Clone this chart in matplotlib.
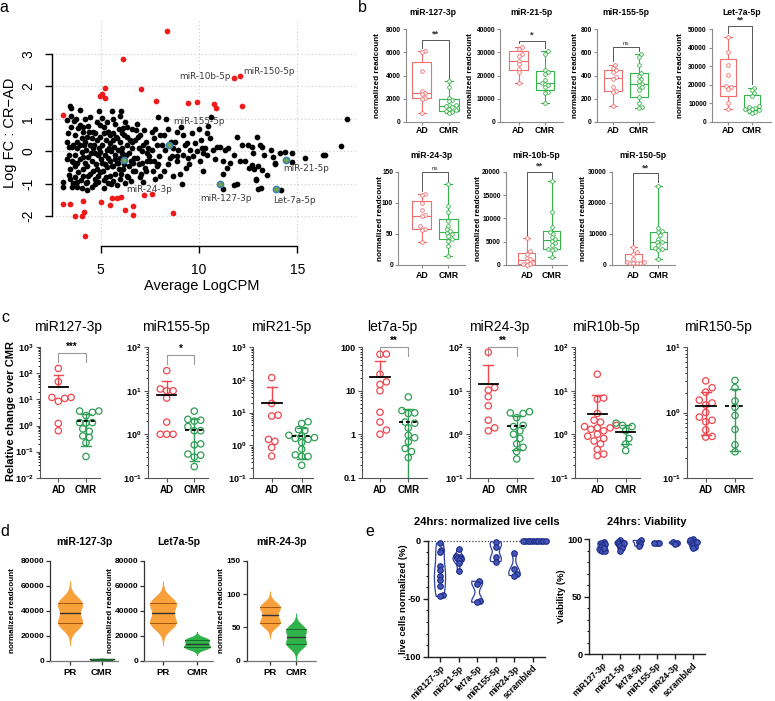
import numpy as np
import matplotlib
matplotlib.use('Agg')
import matplotlib.pyplot as plt
from matplotlib.ticker import FixedLocator, FuncFormatter, NullFormatter

plt.rcParams['font.family'] = ['Liberation Sans', 'DejaVu Sans']
plt.rcParams['mathtext.fontset'] = 'custom'
plt.rcParams['mathtext.rm'] = 'Liberation Sans'
plt.rcParams['mathtext.bf'] = 'Liberation Sans:bold'
plt.rcParams['axes.unicode_minus'] = False

# ------------------------------------------------------------------ data
# panel a : MA plot (Average LogCPM, Log FC)
ma_black_x = [3.44, 3.47, 3.27, 3.27, 3.36, 3.39, 3.44, 3.36, 3.10, 3.10, 3.53, 3.61,
              3.92, 3.75, 3.95, 3.86, 3.69, 4.03, 3.81, 3.95, 3.78, 4.03, 3.69, 3.92, 3.78, 4.08, 3.86, 3.69, 3.98, 3.78, 4.03, 4.12, 4.12, 3.53, 3.61,
              4.20, 4.37, 4.63, 4.29, 4.80, 4.46, 4.25, 4.71, 4.37, 4.54, 4.32, 4.80, 4.46, 4.71, 4.25, 4.54, 4.29, 4.20, 4.88, 4.80, 4.88,
              4.92, 5.05, 5.31, 5.14, 5.39, 4.97, 5.27, 5.05, 5.44, 4.97, 5.22, 5.39, 5.05, 5.31, 4.97, 5.47, 5.14, 5.39, 5.14, 5.47, 5.47, 5.47,
              5.56, 6.03, 5.73, 5.95, 5.64, 5.85, 5.98, 5.68, 5.90, 5.73, 5.98, 5.81, 5.64, 5.95, 5.73, 5.98, 5.64, 5.85, 5.98, 6.07,
              6.15, 6.32, 6.58, 6.19, 6.49, 6.32, 6.58, 6.41, 6.24, 6.53, 6.41, 6.15, 6.63, 6.32, 6.53, 6.24,
              6.80, 7.20, 7.00, 6.75, 7.17, 6.92, 7.34, 6.83, 7.08, 7.25, 6.75, 7.00, 7.17, 7.34, 7.31,
              7.93, 7.76, 7.71, 7.85, 7.59, 7.98, 7.51, 7.85, 7.64, 8.02, 7.76, 8.02, 7.47,
              8.31, 8.19, 8.56, 8.27, 8.61, 8.44, 8.19, 8.69, 8.69,
              9.08, 8.86, 9.29, 8.95, 9.17, 8.86, 9.34, 9.03, 9.12, 8.78, 9.37,
              9.97, 9.63, 10.10, 9.54, 9.88, 9.71, 10.05, 10.19, 9.46, 10.14, 10.22,
              10.61, 10.47, 10.39, 10.56, 10.31, 10.73, 10.42, 10.81, 10.90,
              11.07, 11.49, 11.24, 11.58, 11.20, 11.20, 11.41, 11.32,
              11.92, 11.75, 12.08, 11.75, 11.92, 12.17,
              12.93, 12.51, 12.73, 12.34, 12.56, 12.90, 13.02, 13.10,
              12.68, 13.19, 13.64, 13.32, 13.78, 14.37, 14.74, 15.39, 16.32, 16.42, 17.20, 17.51,
              12.68, 13.01, 12.79, 13.19, 13.44, 13.86, 12.90, 13.13, 14.17, 14.12, 14.71, 13.86,
              3.35, 3.50, 3.60, 3.55, 3.70, 3.45, 3.62, 3.80, 3.30, 3.50,
              4.10, 4.15, 4.40, 4.50, 4.20, 4.35, 4.55, 4.60, 4.10, 4.45, 4.60, 4.30,
              4.70, 4.65, 4.90, 5.00, 4.75, 5.10, 4.85, 5.15, 4.95, 5.20, 4.70,
              5.30, 5.50, 5.55, 5.25, 5.60, 5.35, 5.70, 5.50, 5.75, 5.60,
              5.90, 6.10, 6.20, 6.35, 6.05, 6.30, 6.10, 6.40, 6.25,
              6.60, 6.70, 6.90, 6.95, 7.10, 6.65, 7.05, 6.85,
              7.40, 7.60, 7.30, 7.70, 8.10, 7.90,
              8.40, 8.90, 9.20, 9.50, 9.80, 8.50]
ma_black_y = [1.40, 1.33, 0.97, 0.30, 0.14, -0.11, -0.53, -0.73, -0.94, -1.09, -1.11, -0.97,
              1.28, 0.99, 0.81, 0.71, 0.51, 0.40, 0.30, 0.20, 0.09, -0.01, -0.11, -0.25, -0.37, -0.53, -0.63, -0.78, -0.89, -1.09, -1.14, 0.59, -0.19, 0.12, -0.32,
              0.99, 0.78, 0.61, 0.45, 0.35, 0.20, 0.04, -0.06, -0.16, -0.30, -0.44, -0.55, -0.70, -0.84, -0.99, -1.09, -1.18, 0.30, -0.11, 0.89, -0.94,
              1.23, 1.02, 0.89, 0.74, 0.61, 0.45, 0.35, 0.20, 0.09, -0.01, -0.11, -0.22, -0.35, -0.49, -0.65, -0.75, -0.89, -0.99, -1.14, 0.51, 0.25, -0.30,
              1.23, 1.23, 0.85, 0.70, 0.56, 0.40, 0.30, 0.14, 0.04, -0.10, -0.21, -0.35, -0.45, -0.56, -0.70, -0.86, -0.90, -1.05, 1.10, -0.05,
              0.71, 0.76, 0.70, 0.51, 0.35, 0.20, 0.09, -0.06, -0.14, -0.30, -0.45, -0.55, -0.60, -0.75, -0.90, -0.99,
              0.66, 0.66, 0.51, 0.35, 0.20, 0.09, -0.06, -0.21, -0.35, -0.51, -0.60, -0.80, -0.96, -0.30, 0.30,
              1.05, 0.70, 0.40, 0.20, 0.04, -0.15, -0.30, -0.45, -0.60, -0.75, -0.86, 0.51, -0.15,
              0.99, 0.51, 0.30, 0.04, -0.15, -0.40, -0.60, -0.75, 0.09,
              0.74, 0.61, 0.20, 0.04, -0.10, -0.30, -0.51, -0.70, -1.00, 0.30, 0.25,
              0.70, 0.55, 0.35, 0.04, 0.00, -0.15, -0.30, -0.60, -0.21, 0.09, -0.05,
              1.05, 0.79, 0.55, 0.40, 0.09, 0.04, -0.10, -0.25, 0.14,
              0.14, 0.09, -0.30, -0.35, -0.70, -1.15, -0.51, 0.04,
              0.45, -0.10, -0.30, -1.05, -1.00, 0.20,
              0.45, 0.20, -0.05, -0.30, -0.51, -0.86, -1.15, 0.20,
              0.14, 0.14, 0.04, -0.11, -0.17, -0.03, -0.06, -0.22, -0.11, -0.11, 0.17, 1.00,
              -0.42, -0.44, -0.55, -0.58, -0.73, -0.40, -0.89, -1.14, -1.19, -0.06, -0.34, -0.37,
              0.55, 0.75, 0.20, -0.30, -0.45, -0.85, 0.95, -0.95, -0.25, 1.10,
              0.75, 0.20, 0.60, -0.05, -0.35, -0.75, 0.40, -0.60, -0.75, 1.05, 0.10, -0.95,
              0.55, 0.20, 0.10, -0.25, -0.40, -0.60, -0.75, 0.55, 0.80, -0.40, -1.00,
              0.05, 0.00, -0.45, -0.80, 0.35, 0.60, -0.25, -1.00, 0.45, 1.00,
              -0.35, 0.10, -0.40, 0.45, -0.70, -0.10, 0.55, -0.80, 0.90,
              0.30, -0.20, 0.45, -0.40, 0.00, -0.35, -0.70, 0.85,
              0.10, 0.60, -0.60, -0.30, 0.20, -0.40,
              0.70, -0.15, 0.50, -0.40, 0.25, -0.20]
ma_red_x = [8.36, 6.12, 5.24, 4.97, 5.08, 5.24, 7.05, 7.80, 9.42, 9.90, 10.75, 10.88, 12.19, 11.80, 12.08,
            3.07, 3.07, 3.46, 3.71, 4.03, 4.08, 4.15, 4.20, 5.00, 5.49, 5.56, 5.85, 6.03, 6.22, 6.64, 6.66, 7.20, 7.63, 8.66]
ma_red_y = [3.71, 2.86, 1.95, 1.72, 1.76, 1.63, 1.91, 1.54, 1.49, 1.53, 1.47, 1.35, 1.41, 2.26, 2.31,
            1.12, -1.63, -1.63, -2.00, -2.00, -1.52, -1.86, -2.62, -1.57, -1.65, -1.43, -1.43, -1.40, -1.81, -1.69, -1.97, -1.35, -1.32, -1.89]
ma_hl_names = ['miR-24-3p', 'miR-155-5p', 'miR-127-3p', 'miR-21-5p', 'Let-7a-5p']
ma_hl_x = [6.19, 8.49, 11.08, 14.42, 13.91]
ma_hl_y = [-0.28, 0.19, -1.00, -0.27, -1.15]
ma_lab_names = ['miR-10b-5p', 'miR-150-5p']
ma_lab_x = [11.80, 12.08]
ma_lab_y = [2.26, 2.31]

# panel b : normalized readcount boxplots
b_titles = ['miR-127-3p', 'miR-21-5p', 'miR-155-5p', 'Let-7a-5p', 'miR-24-3p', 'miR-10b-5p', 'miR-150-5p']
b_mir127_ad = [6100, 6000, 4400, 2700, 2500, 2400, 2100, 2000, 800]
b_mir127_cmr = [3500, 3000, 2100, 1900, 1800, 1500, 1450, 1350, 1300, 1150, 1000, 950, 850, 750]
b_mir21_ad = [32500, 31500, 29500, 28500, 26500, 25000, 23000, 21500, 17000]
b_mir21_cmr = [30500, 29500, 22500, 21500, 20500, 18000, 17000, 16500, 16000, 15000, 13000, 12500, 8000]
b_mir155_ad = [495, 470, 445, 430, 385, 375, 300, 270, 258, 140]
b_mir155_cmr = [585, 560, 490, 425, 400, 375, 350, 330, 320, 300, 280, 220, 160, 130, 120]
b_let7a_ad = [46000, 38000, 30500, 25500, 19500, 19000, 18000, 10500, 7000]
b_let7a_cmr = [18500, 17000, 15500, 14000, 8500, 8000, 7500, 7000, 6800, 6500, 6000, 5500, 5000]
b_mir24_ad = [114, 112, 100, 88, 80, 78, 62, 58, 57, 37]
b_mir24_cmr = [130, 95, 85, 70, 63, 58, 55, 52, 50, 47, 42, 38, 30, 15]
b_mir10b_ad = [5800, 2900, 2400, 1500, 1200, 800, 500, 300, 150, 50]
b_mir10b_cmr = [18000, 11300, 8200, 7000, 6600, 6000, 5500, 5100, 4800, 4300, 3500, 3400, 3300, 1800]
b_mir150_ad = [5800, 4200, 3500, 1800, 1100, 900, 800, 700, 600, 500]
b_mir150_cmr = [25500, 12000, 11000, 10500, 9500, 8500, 7500, 7300, 6500, 5500, 5000, 4800, 1800]
b_sig = ['**', '*', 'ns', '**', 'ns', '**', '**']
b_ymax = [8000, 40000, 800, 50000, 150, 20000, 30000]
b_ystep = [2000, 10000, 200, 10000, 50, 5000, 10000]

# panel c : relative change over CMR (log)
c_titles = ['miR127-3p', 'miR155-5p', 'miR21-5p', 'let7a-5p', 'miR24-3p', 'miR10b-5p', 'miR150-5p']
c_mir127_ad = [155, 48, 12, 12, 11, 8.5, 1.2, 0.63]
c_mir127_cmr = [3.6, 3.2, 3.6, 2.4, 1.3, 1.3, 1.25, 0.75, 0.6, 0.4, 0.35, 0.22, 0.065]
c_mir155_ad = [29, 10, 11, 10, 6.8, 1.9, 1.0, 1.0, 1.0]
c_mir155_cmr = [3.4, 2.2, 2.1, 2.0, 1.5, 1.2, 1.2, 0.6, 0.57, 0.35, 0.33, 0.3, 0.18]
c_mir21_ad = [117, 19, 8.3, 7.8, 1.5, 1.3, 0.85, 0.46]
c_mir21_cmr = [5.2, 4.6, 3.0, 2.8, 2.0, 1.9, 1.7, 1.6, 1.5, 1.2, 0.75, 0.5, 0.45, 0.45, 0.24]
c_let7a_ad = [70, 69, 24, 16, 14, 10, 3.2, 1.9, 1.25, 1.0]
c_let7a_cmr = [7.2, 3.5, 3.1, 3.0, 1.9, 1.8, 1.4, 0.95, 0.83, 0.67, 0.47, 0.4, 0.29]
c_mir24_ad = [77, 11.8, 10.4, 7.3, 4.5, 2.1, 1.4, 1.2]
c_mir24_cmr = [3.3, 3.1, 3.0, 2.4, 1.6, 1.5, 1.2, 1.0, 0.8, 0.6, 0.5, 0.4, 0.27]
c_mir10b_ad = [24, 6.8, 6.4, 3.0, 2.1, 1.9, 1.6, 1.5, 1.4, 1.4, 1.3, 1.2, 1.0, 0.9, 0.8, 0.7, 0.6, 0.45, 0.35, 0.32]
c_mir10b_cmr = [1.8, 1.6, 1.5, 1.2, 0.8, 0.6, 0.42]
c_mir150_ad = [3.06, 2.4, 2.05, 1.55, 1.4, 1.3, 1.0, 0.85, 0.76, 0.72, 0.54, 0.43, 0.42]
c_mir150_cmr = [3.1, 2.4, 1.2, 0.9, 0.55, 0.32, 0.25, 1.5]
c_sig = ['***', '*', '', '**', '**', '', '']
c_ylims = [(1e-2, 1e3), (1e-1, 1e2), (1e-1, 1e3), (1e-1, 1e2), (1e-1, 1e2), (1e-1, 1e2), (1e-1, 1e1)]

# panel d : violins
d_titles = ['miR-127-3p', 'Let7a-5p', 'miR-24-3p']
d_mir127_pr = [28000, 29500, 30500, 32000, 38000, 44000, 45500, 46500, 48000]
d_mir127_cmr = [700, 900, 1000, 1100, 1300]
d_let7a_pr = [28000, 29500, 30500, 32000, 38000, 44000, 45500, 46500, 48000]
d_let7a_cmr = [10000, 10800, 11500, 13500, 15800, 16800, 17500]
d_mir24_pr = [55, 57, 59, 69, 79, 81, 83]
d_mir24_cmr = [22, 25, 28, 36, 44, 47, 50]
d_ymax = [80000, 80000, 150]
d_ystep = [20000, 20000, 50]

# panel e : cell assays
e_cats = ['miR127-3p', 'miR21-5p', 'let7a-5p', 'miR155-5p', 'miR24-3p', 'scrambled']
e_live = [[-2, -8, -10, -22, -25, -30, -34, -39, -47, -48],
          [-7.5, -13, -14, -15, -16, -17, -19.5, -26],
          [-35, -37, -52, -53],
          [-1, -5, -14, -18],
          [-10.5, -24, -29, -30],
          [0, 0, 0, 0, 0, 0, 0, 0, 0, 0]]
e_viab = [[98, 97, 96, 95, 93, 91, 90, 90, 92],
          [99, 98, 97, 96, 95, 94, 92, 90, 97],
          [99, 98, 96, 94],
          [97, 97, 97],
          [98, 97, 96],
          [100, 99, 98, 97, 96, 95, 93, 92, 98]]

# ------------------------------------------------------------------ helpers
W, H = 775, 701
fig = plt.figure(figsize=(W / 100, H / 100), dpi=100)


def rect(l, r, t, b):
    return [l / W, 1 - b / H, (r - l) / W, (b - t) / H]


def ftext(x, y, s, **kw):
    return fig.text(x / W, 1 - y / H, s, **kw)


def swarm_x(ax, x0, vals, d_px):
    vals = np.asarray(vals, float)
    pts = ax.transData.transform(np.column_stack([np.full(len(vals), float(x0)), vals]))
    order = np.argsort(pts[:, 1])
    cands = [0.0]
    for k in range(1, 14):
        cands += [k * 0.5 * d_px, -k * 0.5 * d_px]
    placed, out = [], np.zeros(len(vals))
    for i in order:
        y = pts[i, 1]
        x = pts[i, 0]
        for c in cands:
            x = pts[i, 0] + c
            if all((x - px) ** 2 + (y - py) ** 2 >= (0.95 * d_px) ** 2 for px, py in placed):
                break
        placed.append((x, y))
        out[i] = x
    return ax.transData.inverted().transform(np.column_stack([out, pts[:, 1]]))[:, 0]


def style_axes(ax, color, lw=0.8):
    for s in ['top', 'right']:
        ax.spines[s].set_visible(False)
    for s in ['left', 'bottom']:
        ax.spines[s].set_color(color)
        ax.spines[s].set_linewidth(lw)
    ax.tick_params(colors=color, width=lw)
    ax.tick_params(labelcolor='black')


# ------------------------------------------------------------------ panel a
axa = fig.add_axes(rect(52, 358, 20, 246))
axa.set_xlim(2.52, 18.08)
axa.set_ylim(-2.92, 4.05)
for s in ['top', 'right']:
    axa.spines[s].set_visible(False)
axa.spines['left'].set_bounds(-2, 3)
axa.spines['bottom'].set_bounds(5, 15)
for s in ['left', 'bottom']:
    axa.spines[s].set_linewidth(1.0)
axa.set_xticks([5, 10, 15])
axa.set_yticks([-2, -1, 0, 1, 2, 3])
axa.grid(True, ls=(0, (1, 2.2)), color='#c9c9c9', lw=0.8)
axa.set_axisbelow(True)
axa.tick_params(direction='out', length=5, width=1.0, labelsize=10, pad=7)
axa.tick_params(axis='y', labelrotation=90)
for lab in axa.get_yticklabels():
    lab.set_va('center')
axa.scatter(ma_black_x, ma_black_y, s=17, c='black', lw=0, zorder=3)
axa.scatter(ma_red_x, ma_red_y, s=17, c='#ee1b1b', lw=0, zorder=3)
axa.scatter(ma_hl_x, ma_hl_y, s=20, c='#74a642', edgecolors='#3a7fc0', lw=1.1, zorder=4)
hl_offsets = [(2, -29), (3.4, 23.4), (-20, -14.6), (-3, -8.3), (-3, -11.5)]
for n, x, y, (dx, dy) in zip(ma_hl_names, ma_hl_x, ma_hl_y, hl_offsets):
    axa.annotate(n, (x, y), xytext=(dx * 0.72, dy * 0.72), textcoords='offset points',
                 ha='left', va='center', fontsize=6.4, color='#3a3a3a', family='DejaVu Sans')
lab_offsets = [(-4, 1.5, 'right'), (3, 5, 'left')]
for n, x, y, (dx, dy, ha) in zip(ma_lab_names, ma_lab_x, ma_lab_y, lab_offsets):
    axa.annotate(n, (x, y), xytext=(dx * 0.72, dy * 0.72), textcoords='offset points',
                 ha=ha, va='center', fontsize=6.4, color='#3a3a3a', family='DejaVu Sans')
axa.set_ylabel('Log FC : CR\u2212AD', fontsize=10.5)
axa.set_xlabel('Average LogCPM', fontsize=10.5)
axa.yaxis.set_label_coords((17 - 52) / 306, 0.5)
axa.xaxis.set_label_coords(0.49, (246 - 279) / 226)

# ------------------------------------------------------------------ panel b
RED_B, GRN_B = '#f26e6e', '#36b34a'
b_layout = [(405.7, 460, 29.3, 122, 421.7, 449, 377.5, 7100),
            (500, 563, 29.3, 122, 518.5, 545, 470, 35000),
            (596.7, 655, 29.3, 122, 613, 639, 575.5, 650),
            (711.7, 772, 29.3, 122, 728, 752, 680, 51800),
            (398, 465, 171.7, 265, 421.7, 448.3, 380, 149),
            (505.7, 566.7, 171.7, 265, 526.7, 551.7, 478.3, 20000),
            (611.7, 675, 171.7, 265, 633.3, 658.3, 583.3, 29500)]
b_data = [(b_mir127_ad, b_mir127_cmr), (b_mir21_ad, b_mir21_cmr), (b_mir155_ad, b_mir155_cmr),
          (b_let7a_ad, b_let7a_cmr), (b_mir24_ad, b_mir24_cmr), (b_mir10b_ad, b_mir10b_cmr),
          (b_mir150_ad, b_mir150_cmr)]


def box_stats(v):
    v = np.asarray(v, float)
    q1, med, q3 = np.percentile(v, [25, 50, 75], method='weibull')
    return dict(med=med, q1=q1, q3=q3, whislo=v.min(), whishi=v.max(), fliers=[])


for i, ((l, r, t, b, adx, cmx, ylx, bry), (ad, cm)) in enumerate(zip(b_layout, b_data)):
    ax = fig.add_axes(rect(l, r, t, b))
    u = cmx - adx
    ax.set_xlim(-(adx - l) / u, (r - adx) / u)
    ymax = b_ymax[i]
    ax.set_ylim(0, ymax)
    style_axes(ax, '#8c8c8c', 0.8)
    ax.spines['bottom'].set_linestyle((0, (1, 0.8)))
    ax.set_yticks(np.arange(0, ymax + 1, b_ystep[i]))
    ax.yaxis.set_major_formatter(FuncFormatter(lambda v, p: '%d' % v))
    ax.set_xticks([0, 1])
    ax.set_xticklabels(['AD', 'CMR'])
    ax.tick_params(axis='y', length=2.5, labelsize=4.8, pad=1)
    ax.tick_params(axis='x', length=2, labelsize=6.3, pad=1.2 if t < 100 else 2.5)
    for lab in ax.get_xticklabels() + ax.get_yticklabels():
        lab.set_fontweight('bold')
    bp = ax.bxp([box_stats(ad), box_stats(cm)], positions=[0, 1], widths=0.7, capwidths=0.3,
                showfliers=False, manage_ticks=False)
    for j, col in enumerate([RED_B, GRN_B]):
        for art in [bp['boxes'][j], bp['medians'][j], bp['whiskers'][2 * j], bp['whiskers'][2 * j + 1],
                    bp['caps'][2 * j], bp['caps'][2 * j + 1]]:
            art.set_color(col)
            art.set_linewidth(0.8)
    for j, (vals, col) in enumerate([(ad, RED_B), (cm, GRN_B)]):
        xs = swarm_x(ax, j, vals, 3.4)
        ax.scatter(xs, vals, s=7, facecolors='white', edgecolors=col, lw=0.6, zorder=4, clip_on=False)
    g = 0.035 * ymax
    ax.plot([0, 0, 1, 1], [max(ad) + g, bry, bry, max(cm) + g], color='#555555', lw=0.7, clip_on=False)
    ax.text(0.5, bry + 0.01 * ymax, b_sig[i], ha='center', va='bottom', clip_on=False,
            fontsize=4.5 if b_sig[i] == 'ns' else 6.5, fontweight='normal' if b_sig[i] == 'ns' else 'bold',
            color='#333333')
    ftext((l + r) / 2, t - 16.5, b_titles[i], ha='center', va='center', fontsize=6.2, fontweight='bold')
    ftext(ylx, (t + b) / 2, 'normalized readcount', ha='center', va='center', rotation=90,
          fontsize=5.9, fontweight='bold')

# ------------------------------------------------------------------ panel c
RED_C, GRN_C = '#f0464e', '#2f9e55'
c_layout = [(40, 100, 58.3, 86, 590, 265),
            (148, 208, 166.7, 194.3, 66, 39),
            (253, 313, 271.7, 301.7, None, None),
            (362, 427, 380, 408.3, 100, 67),
            (470, 533, 488.3, 516.7, 100, 72),
            (575, 640, 597.3, 625.7, None, None),
            (687, 752, 705.7, 735, None, None)]
c_data = [(c_mir127_ad, c_mir127_cmr), (c_mir155_ad, c_mir155_cmr), (c_mir21_ad, c_mir21_cmr),
          (c_let7a_ad, c_let7a_cmr), (c_mir24_ad, c_mir24_cmr), (c_mir10b_ad, c_mir10b_cmr),
          (c_mir150_ad, c_mir150_cmr)]
c_top, c_bot = 347.3, 477.7


def dec_label(v, p):
    e = int(round(np.log10(v)))
    return r'$\mathbf{10^{%d}}$' % e


def plain_label(v, p):
    return {0.1: '0.1', 1: '1', 10: '10', 100: '100'}.get(round(v, 3), '')


for i, ((l, r, adx, cmx, bry, legy), (ad, cm)) in enumerate(zip(c_layout, c_data)):
    ax = fig.add_axes(rect(l, r, c_top, c_bot))
    u = cmx - adx
    ax.set_xlim(-(adx - l) / u, (r - adx) / u)
    ax.set_yscale('log')
    lo, hi = c_ylims[i]
    ax.set_ylim(lo, hi)
    style_axes(ax, '#555555', 0.8)
    decs = 10.0 ** np.arange(np.log10(lo), np.log10(hi) + 0.5)
    ax.yaxis.set_major_locator(FixedLocator(decs))
    minors = [d * k for d in decs[:-1] for k in range(2, 10)]
    ax.yaxis.set_minor_locator(FixedLocator(minors))
    ax.yaxis.set_minor_formatter(NullFormatter())
    ax.yaxis.set_major_formatter(FuncFormatter(plain_label if i == 3 else dec_label))
    ax.set_xticks([0, 1])
    ax.set_xticklabels(['AD', 'CMR'])
    ax.tick_params(axis='y', which='major', length=3, labelsize=6.5, pad=1.5)
    ax.tick_params(axis='y', which='minor', length=1.5, width=0.6)
    ax.tick_params(axis='x', length=3, labelsize=7, pad=2)
    for lab in ax.get_xticklabels() + ax.get_yticklabels():
        lab.set_fontweight('bold')
    for j, (vals, col) in enumerate([(ad, RED_C), (cm, GRN_C)]):
        v = np.asarray(vals, float)
        m, sd = v.mean(), v.std(ddof=1)
        top = m + sd
        bot = m - sd
        ax.plot([j, j], [bot if bot > 0 else m, top], color=col, lw=1.0, zorder=2)
        ax.plot([j - 0.17, j + 0.17], [top, top], color=col, lw=1.0, zorder=2)
        if bot > 0:
            ax.plot([j - 0.17, j + 0.17], [bot, bot], color=col, lw=1.0, zorder=2)
        dashed = (j == 1 and i != 5)
        ax.plot([j - 0.34, j + 0.34], [m, m], color='black', lw=1.3, zorder=5,
                ls=(0, (2.2, 1.6)) if dashed else '-')
        xs = swarm_x(ax, j, v, 6.4)
        ax.scatter(xs, v, s=21, facecolors='none', edgecolors=col, lw=0.9, zorder=4, clip_on=False)
    if c_sig[i]:
        yb = ax.transData.transform((0, bry))[1]
        yl = ax.transData.inverted().transform((0, yb - 9))[1]
        ax.plot([0, 0, 1, 1], [yl, bry, bry, yl], color='#9a9a9a', lw=0.8, clip_on=False)
        ax.annotate(c_sig[i], (0.5, bry), xytext=(0, 1), textcoords='offset points', ha='center',
                    va='bottom', fontsize=7, fontweight='bold', annotation_clip=False)
    ftext((l + r) / 2 - 2, 326.7, c_titles[i], ha='center', va='center', fontsize=10)
ftext(11.5, 411, 'Relative change over CMR', rotation=90, ha='center', va='center', fontsize=8, fontweight='bold')

# ------------------------------------------------------------------ panel d
ORG, GRN_D = '#f8a03a', '#2fb24a'
d_layout = [(50, 118, 70, 101.7, 12.5), (144, 213, 163, 197, 110.5), (246.7, 316, 270, 296, 221.5)]
d_data = [(d_mir127_pr, d_mir127_cmr), (d_let7a_pr, d_let7a_cmr), (d_mir24_pr, d_mir24_cmr)]
d_bw = [(5200, 280), (5200, 1900), (7.0, 7.0)]


def kde_profile(v, bw, cut):
    v = np.asarray(v, float)
    ys = np.linspace(v.min() - cut * bw, v.max() + cut * bw, 300)
    dens = np.exp(-0.5 * ((ys[:, None] - v[None, :]) / bw) ** 2).sum(1)
    return ys, dens / dens.max()


for i, ((l, r, prx, cmx, ylx), (pr, cm)) in enumerate(zip(d_layout, d_data)):
    ax = fig.add_axes(rect(l, r, 560.7, 660.7))
    u = cmx - prx
    ax.set_xlim(-(prx - l) / u, (r - prx) / u)
    ax.set_ylim(0, d_ymax[i])
    style_axes(ax, '#333333', 0.9)
    ax.spines['bottom'].set_linestyle((0, (1, 0.8)))
    ax.spines['bottom'].set_color('#777777')
    ax.set_yticks(np.arange(0, d_ymax[i] + 1, d_ystep[i]))
    ax.set_xticks([0, 1])
    ax.set_xticklabels(['PR', 'CMR'])
    ax.tick_params(axis='y', length=3, labelsize=6.0, pad=1.2)
    ax.tick_params(axis='x', length=3, labelsize=6.8, pad=2)
    for lab in ax.get_xticklabels() + ax.get_yticklabels():
        lab.set_fontweight('bold')
    for j, (vals, col, dark) in enumerate([(pr, ORG, '#a3560f'), (cm, GRN_D, '#1a6b2a')]):
        ys, dn = kde_profile(vals, d_bw[i][j], 3.0)
        hw = dn * 0.38
        ax.fill_betweenx(ys, j - hw, j + hw, facecolor=col, edgecolor=col, lw=0.6, zorder=3)
        q1, med, q3 = np.percentile(vals, [25, 50, 75], method='weibull')
        for q, c_, lw_ in [(q1, dark, 0.7), (med, '#333333', 1.0), (q3, dark, 0.7)]:
            w = np.interp(q, ys, hw)
            ax.plot([j - w, j + w], [q, q], color=c_, lw=lw_, zorder=4)
    ftext((l + r) / 2, 541.7, d_titles[i], ha='center', va='center', fontsize=7.6, fontweight='bold')
    ftext(ylx, 610.7, 'normalized readcount', rotation=90, ha='center', va='center', fontsize=5.9,
          fontweight='bold')

# ------------------------------------------------------------------ panel e
BLUE = '#2e3f9e'
e_specs = [(427.7, 545, 540.7, 656.7, 440, 18.6, (-100, 0), e_live, '24hrs: normalized live cells',
            403, 'live cells normalized (%)', [-100, -50, 0]),
           (589.3, 705, 539.3, 654, 602.3, 18.1, (0, 100), e_viab, '24hrs: Viability',
            561.7, 'Viability (%)', [0, 50, 100])]
for (l, r, t, b, x0, sp, yl, groups, title, ylx, ylab, yt) in e_specs:
    ax = fig.add_axes(rect(l, r, t, b))
    ax.set_xlim(-(x0 - l) / sp, (r - x0) / sp)
    ax.set_ylim(*yl)
    style_axes(ax, '#222222', 1.0)
    ax.set_yticks(yt)
    ax.set_yticks(np.arange(yl[0], yl[1] + 1, 10), minor=True)
    ax.set_xticks(range(len(e_cats)))
    ax.set_xticklabels(e_cats, rotation=45, ha='right', rotation_mode='anchor')
    ax.tick_params(axis='y', which='major', length=3.5, labelsize=6.6, pad=1.5)
    ax.tick_params(axis='y', which='minor', length=1.8, width=0.7)
    ax.tick_params(axis='x', length=3.5, labelsize=6.2, pad=1.5)
    for lab in ax.get_xticklabels() + ax.get_yticklabels():
        lab.set_fontweight('bold')
    if yl[1] == 0:
        ax.axhline(0, color='#444444', lw=0.9, ls=(0, (1, 1.5)), zorder=1, clip_on=False)
    for k, vals in enumerate(groups):
        v = np.asarray(vals, float)
        if v.std() > 0:
            ys, dn = kde_profile(v, max(v.std() * 0.55, 1.0), 0.0)
            hw = dn * 0.3
            ax.fill_betweenx(ys, k - hw, k + hw, facecolor='none', edgecolor=BLUE, lw=0.9, zorder=2)
        xs = swarm_x(ax, k, v, 2.6)
        ax.scatter(xs, v, s=16, facecolors='#4656b8', edgecolors='#1e2c86', lw=0.8, zorder=4, clip_on=False)
    ftext((l + r) / 2, 521.7, title, ha='center', va='center', fontsize=8, fontweight='bold')
    ftext(ylx, (t + b) / 2, ylab, rotation=90, ha='center', va='center', fontsize=6.8, fontweight='bold')

# ------------------------------------------------------------------ panel letters
for s, x, y in [('a', 4, 8), ('b', 362, 8), ('c', 5, 318), ('d', 5, 532), ('e', 370, 532)]:
    ftext(x, y, s, ha='center', va='center', fontsize=11.5)

fig.savefig('out.png', dpi=100)
